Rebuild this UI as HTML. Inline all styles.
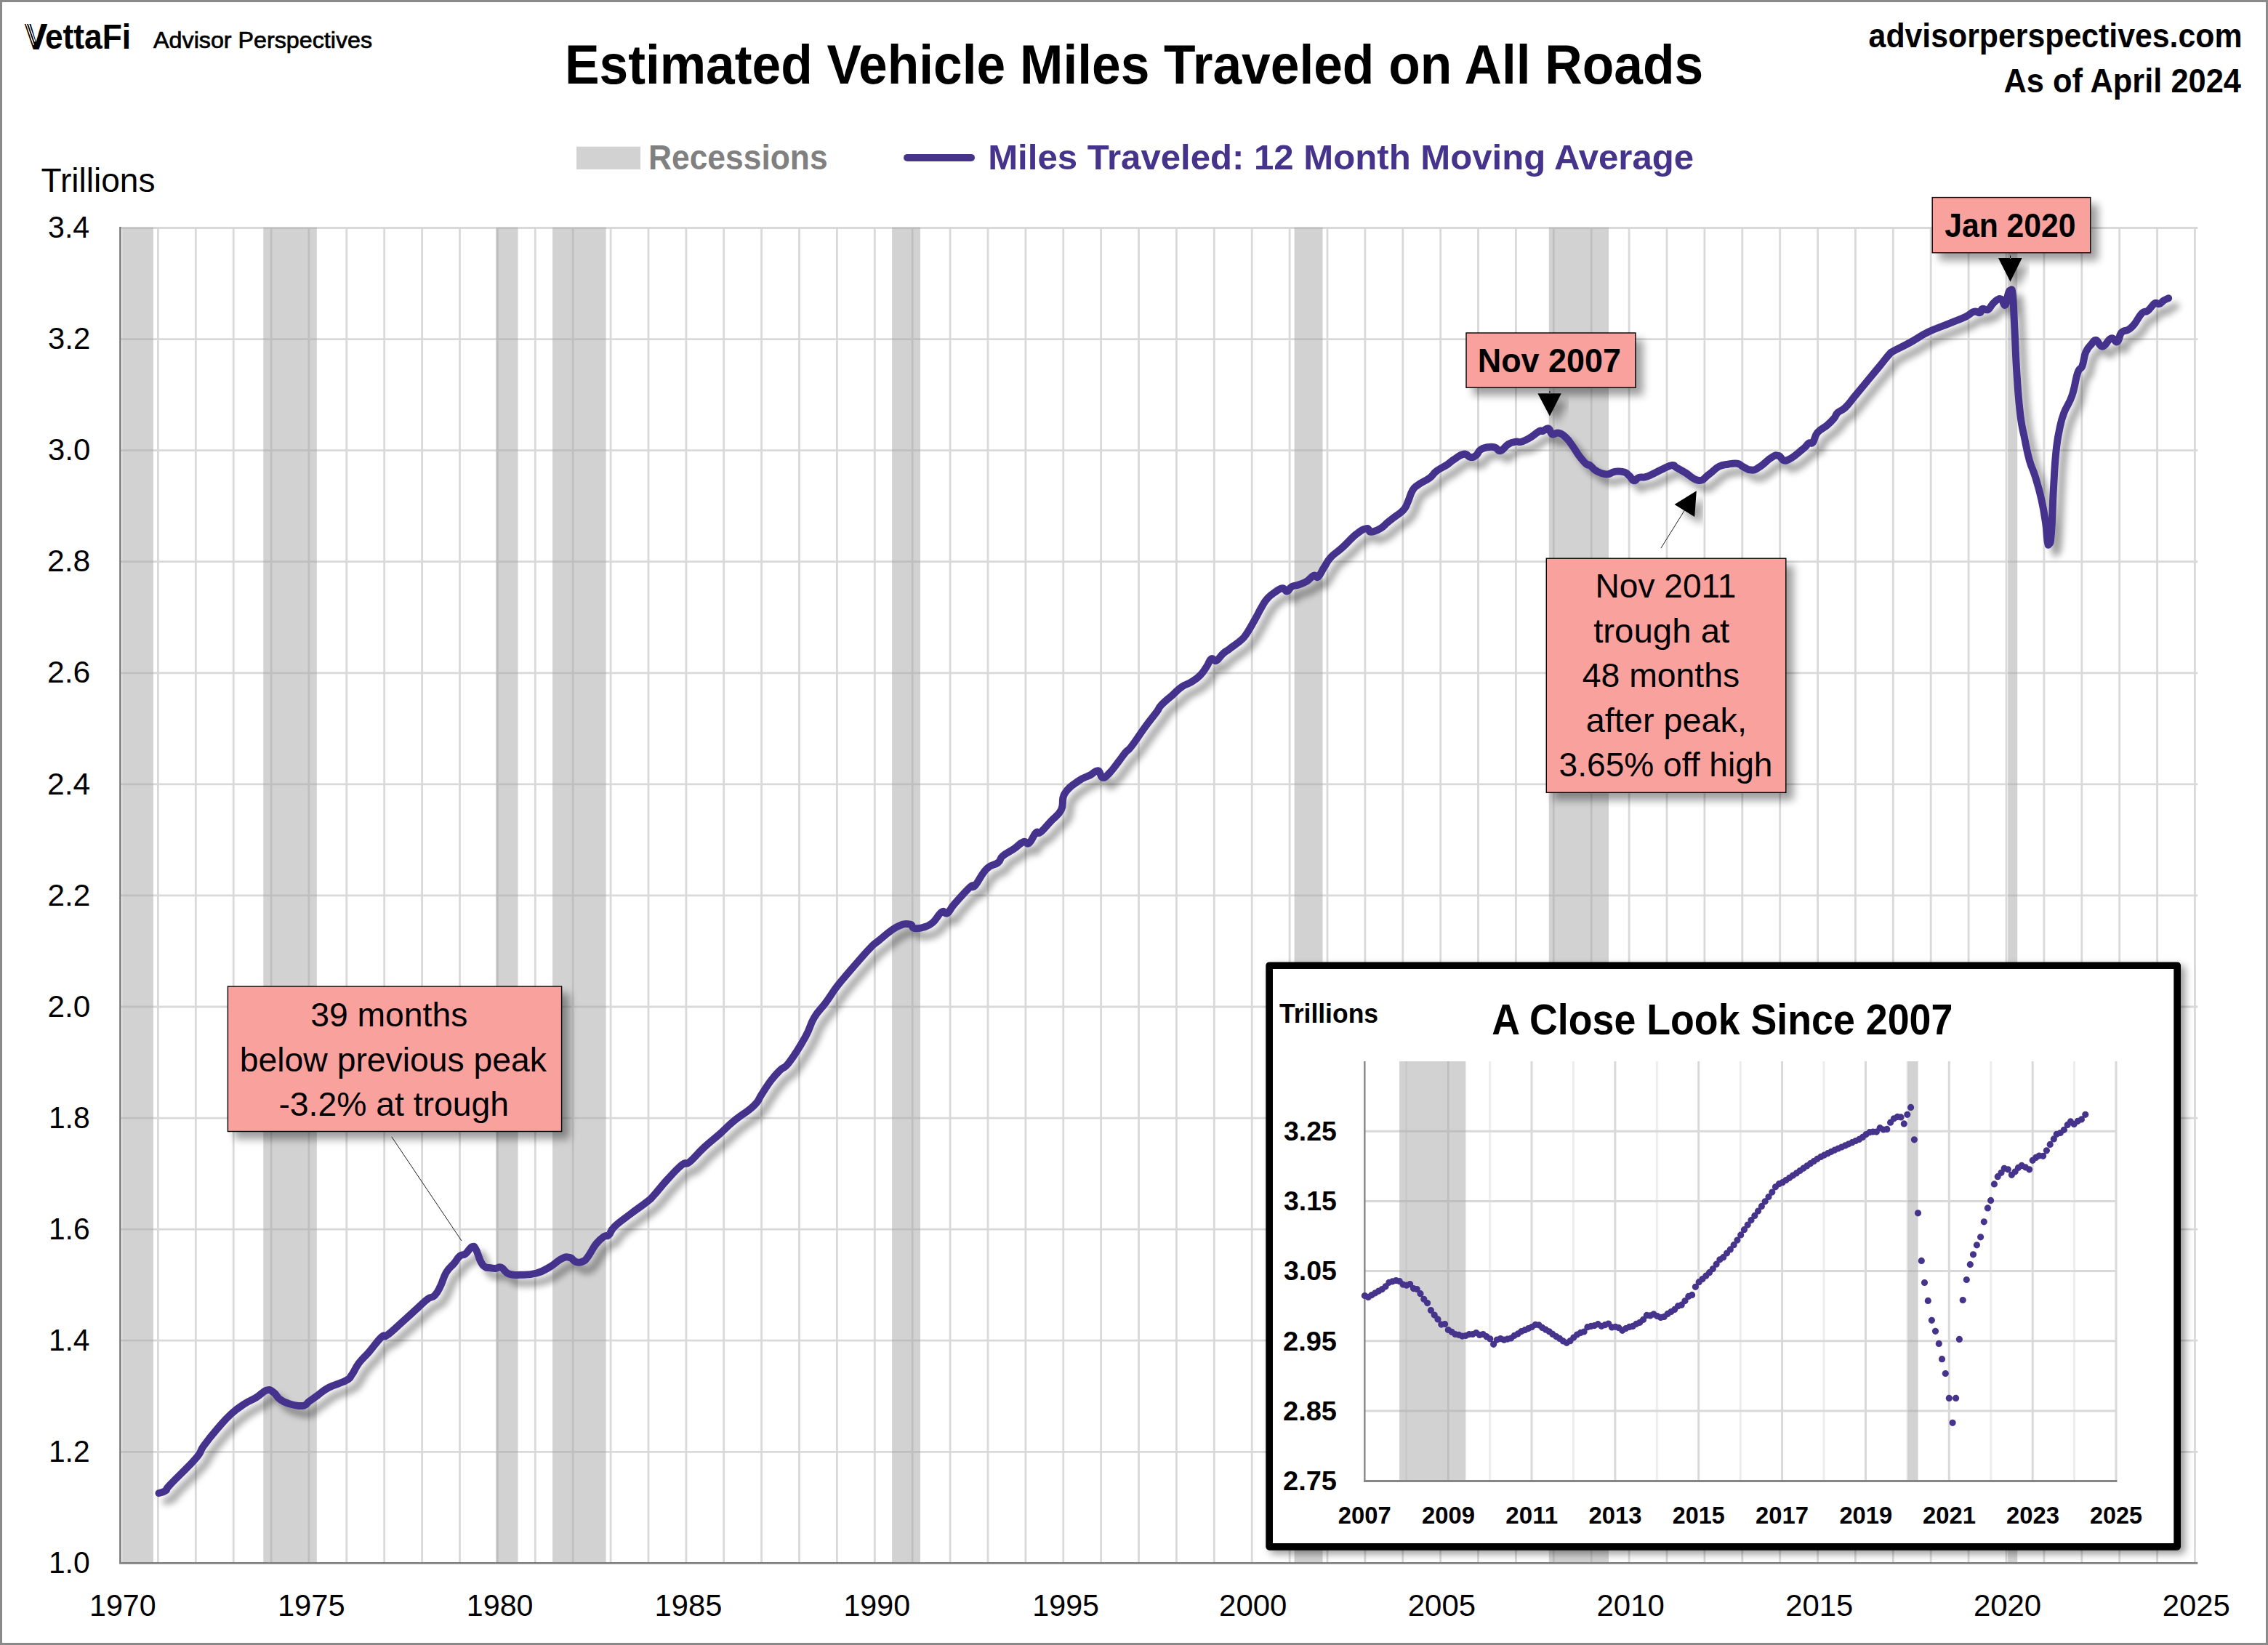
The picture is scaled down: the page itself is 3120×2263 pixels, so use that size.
<!DOCTYPE html>
<html lang="en"><head><meta charset="utf-8"><title>Estimated Vehicle Miles Traveled on All Roads</title>
<style>html,body{margin:0;padding:0;background:#fff}svg{display:block}svg text{font-family:"Liberation Sans",sans-serif}</style></head>
<body>
<svg width="3120" height="2263" viewBox="0 0 3120 2263" font-family="&quot;Liberation Sans&quot;, sans-serif">
<defs>
<filter id="sl" x="-5%" y="-5%" width="110%" height="110%"><feGaussianBlur in="SourceAlpha" stdDeviation="5"/><feOffset dx="9.5" dy="10.5"/><feComponentTransfer><feFuncA type="linear" slope="0.37"/></feComponentTransfer><feMerge><feMergeNode/><feMergeNode in="SourceGraphic"/></feMerge></filter>
<filter id="sb" x="-20%" y="-30%" width="150%" height="180%"><feGaussianBlur in="SourceAlpha" stdDeviation="6"/><feOffset dx="9.5" dy="10"/><feComponentTransfer><feFuncA type="linear" slope="0.38"/></feComponentTransfer><feMerge><feMergeNode/><feMergeNode in="SourceGraphic"/></feMerge></filter>
<filter id="si" x="-5%" y="-5%" width="112%" height="112%"><feGaussianBlur in="SourceAlpha" stdDeviation="5.5"/><feOffset dx="6" dy="4.5"/><feComponentTransfer><feFuncA type="linear" slope="0.4"/></feComponentTransfer><feMerge><feMergeNode/><feMergeNode in="SourceGraphic"/></feMerge></filter>
<clipPath id="pc"><rect x="160" y="300" width="2870" height="1849"/></clipPath>
</defs>
<rect width="3120" height="2263" fill="#fff"/>
<path d="M217.4 312.0V2150.4M269.3 312.0V2150.4M321.2 312.0V2150.4M373.1 312.0V2150.4M424.9 312.0V2150.4M476.8 312.0V2150.4M528.7 312.0V2150.4M580.6 312.0V2150.4M632.5 312.0V2150.4M684.4 312.0V2150.4M736.3 312.0V2150.4M788.2 312.0V2150.4M840.1 312.0V2150.4M892.0 312.0V2150.4M943.9 312.0V2150.4M995.7 312.0V2150.4M1047.6 312.0V2150.4M1099.5 312.0V2150.4M1151.4 312.0V2150.4M1203.3 312.0V2150.4M1255.2 312.0V2150.4M1307.1 312.0V2150.4M1359.0 312.0V2150.4M1410.9 312.0V2150.4M1462.8 312.0V2150.4M1514.6 312.0V2150.4M1566.5 312.0V2150.4M1618.4 312.0V2150.4M1670.3 312.0V2150.4M1722.2 312.0V2150.4M1774.1 312.0V2150.4M1826.0 312.0V2150.4M1877.9 312.0V2150.4M1929.8 312.0V2150.4M1981.7 312.0V2150.4M2033.5 312.0V2150.4M2085.4 312.0V2150.4M2137.3 312.0V2150.4M2189.2 312.0V2150.4M2241.1 312.0V2150.4M2293.0 312.0V2150.4M2344.9 312.0V2150.4M2396.8 312.0V2150.4M2448.7 312.0V2150.4M2500.6 312.0V2150.4M2552.4 312.0V2150.4M2604.3 312.0V2150.4M2656.2 312.0V2150.4M2708.1 312.0V2150.4M2760.0 312.0V2150.4M2811.9 312.0V2150.4M2863.8 312.0V2150.4M2915.7 312.0V2150.4M2967.6 312.0V2150.4M3019.4 312.0V2150.4M165.5 313.5H3023.3M165.5 466.6H3023.3M165.5 619.6H3023.3M165.5 772.7H3023.3M165.5 925.8H3023.3M165.5 1078.9H3023.3M165.5 1231.9H3023.3M165.5 1385.0H3023.3M165.5 1538.1H3023.3M165.5 1691.2H3023.3M165.5 1844.2H3023.3M165.5 1997.3H3023.3" stroke="#D9D9D9" stroke-width="2.8" fill="none"/>
<rect x="168.2" y="312.9" width="42.7" height="1837.5" fill="#A6A6A6" fill-opacity="0.5"/>
<rect x="362.3" y="312.9" width="73.5" height="1837.5" fill="#A6A6A6" fill-opacity="0.5"/>
<rect x="682.2" y="312.9" width="30.3" height="1837.5" fill="#A6A6A6" fill-opacity="0.5"/>
<rect x="760.1" y="312.9" width="73.5" height="1837.5" fill="#A6A6A6" fill-opacity="0.5"/>
<rect x="1227.1" y="312.9" width="38.9" height="1837.5" fill="#A6A6A6" fill-opacity="0.5"/>
<rect x="1780.6" y="312.9" width="38.9" height="1837.5" fill="#A6A6A6" fill-opacity="0.5"/>
<rect x="2130.8" y="312.9" width="82.2" height="1837.5" fill="#A6A6A6" fill-opacity="0.5"/>
<rect x="2762.2" y="312.9" width="13.0" height="1837.5" fill="#A6A6A6" fill-opacity="0.5"/>
<path d="M165.5 312.1V2151.8M164.1 2150.4H3023.3" stroke="#828282" stroke-width="2.8" fill="none"/>
<path d="M218.5 2054.2C220.7 2053.3 224.3 2053.2 228.0 2050.4C231.7 2047.6 224.7 2052.4 234.3 2042.2C243.9 2032.0 258.3 2019.0 269.0 2006.7C279.7 1994.4 273.0 1999.0 280.0 1989.4C287.0 1979.8 290.1 1975.9 299.0 1965.6C307.9 1955.3 309.1 1953.2 318.0 1945.1C326.9 1937.0 328.9 1936.2 337.0 1930.9C345.1 1925.6 345.9 1926.6 352.9 1922.3C359.9 1918.0 361.5 1914.0 367.0 1912.5C372.5 1911.0 372.5 1912.9 376.6 1915.7C380.7 1918.5 379.7 1921.0 384.5 1924.5C389.3 1928.0 389.6 1928.7 397.0 1930.9C404.4 1933.1 409.3 1934.7 416.0 1934.0C422.7 1933.3 420.8 1931.0 425.6 1927.7C430.4 1924.4 430.3 1924.2 436.6 1919.8C442.9 1915.4 443.2 1913.5 452.4 1908.7C461.6 1903.9 468.6 1903.3 476.0 1899.2C483.4 1895.1 479.9 1896.8 484.0 1891.3C488.1 1885.8 487.9 1882.9 493.5 1875.5C499.1 1868.1 500.4 1868.2 507.8 1859.7C515.1 1851.2 519.1 1844.6 525.0 1839.2C530.9 1833.8 526.0 1841.8 533.0 1836.6C540.0 1831.4 545.6 1825.6 555.2 1817.0C564.8 1808.4 566.5 1806.7 574.2 1799.7C581.9 1792.7 582.9 1791.1 588.4 1787.0C593.9 1782.9 593.8 1786.4 597.9 1782.3C602.0 1778.2 602.1 1777.0 605.8 1769.6C609.5 1762.2 609.3 1758.1 613.7 1750.7C618.1 1743.3 620.3 1743.3 624.7 1738.0C629.1 1732.7 628.9 1731.0 632.6 1727.9C636.3 1724.8 636.6 1727.7 640.5 1724.7C644.4 1721.7 646.1 1716.5 649.4 1715.2C652.7 1713.9 652.1 1714.4 654.8 1719.0C657.5 1723.6 658.1 1729.3 661.0 1734.9C663.9 1740.5 664.2 1740.6 667.4 1742.8C670.6 1745.0 671.5 1743.7 674.8 1744.2C678.1 1744.7 678.2 1745.1 681.7 1745.0C685.2 1744.9 685.3 1742.0 689.6 1743.7C693.9 1745.5 693.9 1750.2 700.0 1752.5C706.1 1754.8 707.0 1753.9 715.9 1753.7C724.8 1753.5 728.4 1754.1 738.0 1751.5C747.6 1748.9 748.9 1747.3 757.0 1742.6C765.1 1737.9 766.5 1734.4 772.8 1731.5C779.1 1728.6 779.5 1729.0 783.9 1730.0C788.3 1731.0 787.8 1734.4 791.8 1735.7C795.8 1737.0 797.2 1737.4 801.2 1735.7C805.2 1734.0 804.7 1734.2 809.1 1728.4C813.5 1722.6 815.0 1717.4 820.2 1711.0C825.4 1704.6 827.2 1703.7 831.3 1700.9C835.4 1698.1 834.3 1702.2 837.6 1699.0C840.9 1695.8 838.5 1694.1 845.5 1687.3C852.5 1680.5 857.3 1677.8 867.6 1669.9C877.9 1662.0 882.4 1659.4 889.8 1653.5C897.2 1647.6 892.7 1651.8 899.3 1644.6C905.9 1637.4 909.0 1632.5 918.2 1622.5C927.4 1612.5 931.8 1607.4 938.8 1601.9C945.8 1596.4 941.3 1604.3 948.3 1598.8C955.3 1593.3 958.8 1587.4 968.8 1578.2C978.8 1569.0 981.4 1567.7 991.0 1559.2C1000.6 1550.7 999.2 1550.7 1009.9 1541.9C1020.6 1533.1 1028.0 1529.8 1036.8 1521.3C1045.6 1512.8 1042.3 1513.6 1047.8 1505.5C1053.3 1497.4 1054.6 1494.2 1060.5 1486.5C1066.4 1478.8 1067.2 1478.2 1073.1 1472.3C1079.0 1466.4 1077.7 1471.9 1085.8 1461.2C1093.9 1450.5 1099.9 1440.8 1107.9 1426.5C1115.9 1412.2 1113.5 1411.0 1120.0 1400.0C1126.5 1389.0 1128.4 1389.6 1135.8 1379.5C1143.2 1369.4 1144.2 1366.5 1151.6 1356.8C1159.0 1347.1 1160.0 1346.5 1167.4 1337.8C1174.8 1329.1 1176.2 1327.5 1183.2 1319.5C1190.2 1311.5 1191.6 1309.6 1197.5 1303.7C1203.4 1297.8 1200.0 1300.9 1208.5 1294.2C1217.0 1287.5 1223.8 1280.5 1233.8 1275.2C1243.8 1269.9 1245.7 1271.0 1251.2 1271.4C1256.7 1271.8 1253.1 1275.8 1257.5 1276.8C1261.9 1277.8 1264.3 1277.5 1270.2 1275.8C1276.1 1274.1 1276.9 1274.4 1282.8 1269.5C1288.7 1264.6 1290.7 1257.7 1295.5 1254.6C1300.3 1251.5 1299.3 1258.8 1303.4 1256.2C1307.5 1253.6 1305.5 1252.1 1312.9 1243.6C1320.3 1235.1 1328.4 1225.8 1335.0 1219.9C1341.6 1214.0 1336.1 1224.0 1341.3 1218.3C1346.5 1212.6 1349.7 1202.9 1357.1 1195.5C1364.5 1188.1 1367.7 1190.8 1372.9 1186.7C1378.1 1182.6 1374.0 1182.2 1379.2 1177.8C1384.4 1173.4 1388.3 1172.3 1395.0 1167.7C1401.7 1163.1 1402.9 1160.0 1407.7 1158.2C1412.5 1156.4 1411.5 1162.7 1415.6 1159.8C1419.7 1156.9 1421.4 1149.1 1425.1 1145.6C1428.8 1142.1 1426.6 1148.6 1431.4 1144.9C1436.2 1141.2 1438.9 1137.0 1445.6 1129.8C1452.2 1122.6 1455.5 1122.9 1459.9 1114.0C1464.3 1105.1 1459.1 1101.0 1464.6 1091.8C1470.1 1082.6 1475.5 1080.3 1483.6 1074.4C1491.7 1068.5 1493.1 1069.8 1499.4 1066.5C1505.7 1063.2 1506.3 1059.5 1510.4 1060.2C1514.5 1060.9 1513.1 1069.0 1516.8 1069.7C1520.5 1070.4 1521.1 1068.6 1526.3 1063.4C1531.5 1058.2 1533.7 1054.2 1538.9 1047.6C1544.1 1040.9 1544.3 1039.7 1548.4 1034.9C1552.5 1030.1 1550.0 1035.1 1556.3 1027.0C1562.6 1018.9 1567.2 1011.2 1575.3 1000.1C1583.4 989.0 1585.9 986.6 1591.1 979.6C1596.3 972.6 1592.2 975.6 1597.4 970.1C1602.6 964.6 1606.6 961.8 1613.2 955.9C1619.8 950.0 1619.9 948.9 1625.8 944.8C1631.7 940.7 1632.6 942.2 1638.5 938.5C1644.4 934.8 1646.1 934.1 1651.1 929.0C1656.1 923.9 1656.5 922.1 1660.1 916.8C1663.7 911.5 1663.3 908.1 1666.4 906.3C1669.5 904.5 1669.6 910.5 1673.3 908.9C1677.0 907.3 1677.9 903.2 1682.2 899.4C1686.5 895.5 1685.8 896.8 1691.7 892.4C1697.6 888.0 1702.0 885.4 1707.5 880.4C1713.0 875.4 1711.0 877.5 1715.4 870.9C1719.8 864.3 1721.7 860.5 1726.5 852.0C1731.3 843.5 1731.8 841.4 1735.9 834.6C1740.0 827.8 1739.5 827.7 1743.9 822.9C1748.3 818.1 1750.1 817.2 1754.9 814.0C1759.7 810.8 1760.7 809.4 1764.4 809.3C1768.1 809.2 1767.8 813.9 1770.7 813.4C1773.6 812.9 1773.3 809.2 1777.0 807.1C1780.7 805.0 1781.7 806.2 1786.5 804.5C1791.3 802.8 1792.8 802.7 1797.6 799.8C1802.4 796.9 1803.4 793.4 1807.1 791.9C1810.8 790.4 1810.1 796.1 1813.4 793.5C1816.7 790.9 1817.2 787.1 1821.3 780.8C1825.4 774.5 1824.9 773.0 1830.8 766.6C1836.7 760.2 1838.5 760.7 1846.6 753.3C1854.7 745.9 1857.9 741.1 1865.6 735.0C1873.3 728.9 1875.0 727.8 1879.8 727.1C1884.6 726.4 1881.7 731.8 1886.1 731.8C1890.5 731.8 1893.6 730.0 1898.8 727.1C1904.0 724.2 1904.2 722.5 1908.3 719.2C1912.4 715.9 1911.0 717.0 1916.2 712.9C1921.4 708.8 1925.6 707.0 1930.4 701.8C1935.2 696.6 1933.8 697.0 1936.7 690.7C1939.6 684.4 1939.7 680.4 1943.0 674.9C1946.3 669.4 1945.4 671.1 1950.9 667.0C1956.4 662.9 1960.8 661.9 1966.7 657.5C1972.6 653.1 1970.6 652.2 1976.2 648.0C1981.8 643.8 1984.9 643.2 1990.5 639.5C1996.1 635.8 1994.6 635.8 2000.0 632.3C2005.4 628.8 2008.2 625.5 2013.6 624.7C2019.0 623.9 2019.0 628.5 2023.0 628.9C2027.0 629.3 2027.4 628.8 2030.6 626.4C2033.8 624.0 2033.0 621.3 2036.6 618.7C2040.2 616.1 2041.4 616.1 2046.0 615.3C2050.6 614.5 2051.9 614.2 2056.2 615.3C2060.5 616.4 2059.9 621.1 2064.3 620.1C2068.7 619.1 2070.0 614.0 2074.9 611.1C2079.8 608.2 2080.9 608.5 2085.1 607.7C2089.3 606.9 2088.0 609.1 2092.8 607.7C2097.6 606.3 2099.8 605.1 2105.5 601.7C2111.2 598.3 2113.4 595.3 2117.4 593.2C2121.4 591.1 2119.6 593.8 2122.6 592.9C2125.6 592.0 2127.2 588.4 2130.2 589.4C2133.2 590.4 2132.1 595.9 2135.3 597.4C2138.5 598.9 2139.4 594.7 2143.8 595.7C2148.2 596.7 2149.4 597.5 2154.0 601.7C2158.6 605.9 2159.2 607.8 2163.4 613.6C2167.6 619.4 2167.5 620.6 2171.9 626.4C2176.3 632.2 2178.5 635.1 2182.1 638.3C2185.7 641.5 2184.0 637.8 2187.2 640.0C2190.4 642.2 2190.5 644.8 2195.7 647.7C2200.9 650.6 2203.8 652.0 2209.4 652.4C2215.0 652.8 2215.8 650.3 2219.6 649.4C2223.4 648.5 2221.9 648.4 2225.5 648.5C2229.1 648.6 2231.1 648.2 2234.9 649.7C2238.7 651.2 2238.7 652.1 2241.7 654.8C2244.7 657.5 2244.7 660.8 2247.7 661.3C2250.7 661.8 2250.7 658.2 2254.5 657.0C2258.3 655.8 2259.2 657.4 2263.8 656.2C2268.4 655.0 2268.4 654.5 2274.0 651.9C2279.6 649.3 2281.5 647.9 2287.7 645.1C2293.9 642.3 2296.0 640.4 2300.4 640.0C2304.8 639.6 2302.2 641.0 2306.4 643.4C2310.6 645.8 2311.2 646.1 2318.3 650.2C2325.4 654.3 2329.5 660.3 2337.0 660.9C2344.5 661.5 2344.2 657.2 2350.6 652.8C2357.0 648.4 2358.3 645.2 2364.5 641.9C2370.7 638.6 2371.3 639.7 2377.2 638.7C2383.1 637.7 2385.0 637.0 2389.8 637.7C2394.6 638.4 2393.3 639.8 2397.7 641.9C2402.1 644.0 2403.6 646.4 2408.8 646.6C2414.0 646.8 2413.2 646.9 2419.9 642.8C2426.6 638.7 2431.0 632.9 2437.3 629.2C2443.6 625.5 2441.9 626.0 2446.7 627.0C2451.5 628.0 2450.0 635.4 2457.8 633.3C2465.6 631.2 2473.0 623.4 2480.0 617.9C2487.0 612.4 2484.7 612.1 2488.0 609.9C2491.3 607.7 2491.2 611.9 2494.0 608.5C2496.8 605.1 2495.6 600.7 2500.1 595.2C2504.6 589.7 2508.1 589.6 2513.4 585.1C2518.7 580.6 2519.4 579.9 2522.8 575.8C2526.2 571.7 2524.4 571.3 2528.1 567.7C2531.8 564.1 2533.2 565.9 2538.8 560.4C2544.4 554.9 2544.7 553.4 2552.2 544.3C2559.7 535.2 2562.8 531.4 2570.9 521.6C2579.0 511.8 2580.4 510.2 2587.0 502.2C2593.6 494.2 2594.8 492.0 2599.0 487.5C2603.2 483.0 2598.4 486.5 2605.0 482.8C2611.6 479.1 2616.0 477.6 2627.1 471.5C2638.2 465.4 2640.0 462.9 2652.5 456.8C2665.0 450.7 2668.4 450.4 2680.6 445.4C2692.8 440.4 2696.5 439.3 2704.6 435.4C2712.7 431.5 2710.8 430.0 2715.3 428.8C2719.8 427.6 2721.2 431.0 2723.9 430.1C2726.6 429.2 2724.4 426.0 2727.0 425.0C2729.6 424.0 2731.6 427.6 2734.9 426.0C2738.2 424.4 2738.2 421.3 2741.2 418.1C2744.2 414.9 2744.8 413.9 2747.6 412.4C2750.4 410.9 2750.7 410.1 2753.3 411.8C2755.9 413.5 2756.4 421.5 2758.6 419.7C2760.8 417.9 2761.0 408.6 2762.7 403.9C2764.4 399.2 2764.5 399.3 2765.9 399.7C2767.3 400.1 2767.4 393.7 2768.7 405.4C2770.0 417.1 2770.0 424.6 2771.3 449.7C2772.6 474.8 2772.6 484.9 2774.4 512.9C2776.2 540.9 2776.6 548.4 2779.2 569.8C2781.8 591.2 2782.6 589.8 2785.5 604.6C2788.4 619.4 2788.5 621.3 2791.8 633.1C2795.1 644.9 2795.8 642.7 2799.7 655.2C2803.5 667.7 2805.0 672.1 2808.3 686.8C2811.6 701.5 2812.1 705.1 2814.0 718.4C2815.9 731.7 2815.4 736.7 2816.5 743.7C2817.6 750.7 2817.4 750.7 2818.7 748.5C2820.0 746.3 2820.4 752.3 2821.9 734.2C2823.4 716.1 2823.5 696.8 2825.0 671.0C2826.5 645.2 2826.4 642.0 2828.2 623.6C2830.0 605.2 2830.3 604.9 2832.9 592.0C2835.5 579.1 2835.1 579.4 2839.2 568.3C2843.3 557.2 2845.9 557.4 2850.3 544.5C2854.7 531.6 2854.9 522.5 2858.2 512.9C2861.5 503.3 2861.9 510.0 2864.5 503.4C2867.1 496.8 2866.3 491.5 2869.3 484.5C2872.3 477.5 2873.9 477.2 2877.2 473.4C2880.5 469.5 2880.0 467.3 2883.5 468.0C2887.0 468.7 2887.6 477.2 2892.4 476.6C2897.2 476.0 2899.4 467.0 2904.1 465.5C2908.8 464.0 2909.3 472.0 2912.6 470.2C2915.9 468.4 2914.8 461.5 2918.3 457.6C2921.8 453.7 2923.7 456.1 2927.8 453.5C2931.9 450.9 2931.3 451.8 2935.7 446.5C2940.1 441.2 2942.3 435.1 2946.7 430.7C2951.1 426.3 2950.5 430.7 2954.6 427.6C2958.7 424.5 2960.4 419.6 2964.1 417.4C2967.8 415.2 2967.4 419.1 2970.4 418.1C2973.4 417.1 2973.8 415.1 2976.8 413.3C2979.8 411.5 2981.6 410.9 2983.1 410.2" fill="none" stroke="#45338C" stroke-width="10" stroke-linejoin="round" stroke-linecap="round" filter="url(#sl)"/>
<path d="M538.8 1563.9L635 1707" stroke="#222" stroke-width="1" fill="none"/>
<rect x="313.4" y="1357" width="459.2" height="199.5" fill="#F8A19D" stroke="#000" stroke-width="1.4" filter="url(#sb)"/>
<text x="427.2" y="1411.9" font-size="45.8" font-weight="400" fill="#000" textLength="216.1" lengthAdjust="spacingAndGlyphs">39 months</text>
<text x="329.8" y="1474.0" font-size="45.8" font-weight="400" fill="#000" textLength="422.2" lengthAdjust="spacingAndGlyphs">below previous peak</text>
<text x="383.4" y="1534.7" font-size="45.8" font-weight="400" fill="#000" textLength="316.7" lengthAdjust="spacingAndGlyphs">-3.2% at trough</text>
<path d="M2284.9 754.1L2318 701" stroke="#222" stroke-width="1" fill="none" />
<path d="M2333.8 675.3L2303.5 694L2331.2 711Z" fill="#000" filter="url(#sb)"/>
<rect x="2127.3" y="768.2" width="329.5" height="322.1" fill="#F8A19D" stroke="#000" stroke-width="1.4" filter="url(#sb)"/>
<text x="2194.6" y="822.0" font-size="45.8" font-weight="400" fill="#000" textLength="193.8" lengthAdjust="spacingAndGlyphs">Nov 2011</text>
<text x="2192.2" y="883.6" font-size="45.8" font-weight="400" fill="#000" textLength="187.0" lengthAdjust="spacingAndGlyphs">trough at</text>
<text x="2176.8" y="945.1" font-size="45.8" font-weight="400" fill="#000" textLength="216.3" lengthAdjust="spacingAndGlyphs">48 months</text>
<text x="2181.8" y="1006.7" font-size="45.8" font-weight="400" fill="#000" textLength="221.2" lengthAdjust="spacingAndGlyphs">after peak,</text>
<text x="2144.6" y="1068.0" font-size="45.8" font-weight="400" fill="#000" textLength="293.9" lengthAdjust="spacingAndGlyphs">3.65% off high</text>
<path d="M2115.4 541.2H2147.8L2131.9 572.6ZM2131.4 538V542H2132.4V538Z" fill="#000" filter="url(#sb)"/>
<rect x="2017" y="458" width="232.9" height="75.2" fill="#F8A19D" stroke="#000" stroke-width="1.4" filter="url(#sb)"/>
<text x="2032.8" y="512.3" font-size="45.8" font-weight="700" fill="#000" textLength="197.1" lengthAdjust="spacingAndGlyphs">Nov 2007</text>
<path d="M2749 354.9H2781.6L2765.5 387.6ZM2765 351.5V356H2766V351.5Z" fill="#000" filter="url(#sb)"/>
<rect x="2658.2" y="271.6" width="217.5" height="76.1" fill="#F8A19D" stroke="#000" stroke-width="1.4" filter="url(#sb)"/>
<text x="2675.2" y="326.4" font-size="45.8" font-weight="700" fill="#000" textLength="180.4" lengthAdjust="spacingAndGlyphs">Jan 2020</text>
<g clip-path="url(#pc)">
<rect x="1746.15" y="1328.25" width="1249.00" height="799.60" fill="#fff" stroke="#000" stroke-width="9.7" stroke-linejoin="round" filter="url(#si)"/>
</g>
<path d="M1934.7 1460.0V2037.2M2049.6 1460.0V2037.2M2164.4 1460.0V2037.2M2279.3 1460.0V2037.2M2394.2 1460.0V2037.2M2509.0 1460.0V2037.2M2623.9 1460.0V2037.2M2738.8 1460.0V2037.2M2853.6 1460.0V2037.2" stroke="#EDEDED" stroke-width="3" fill="none"/>
<path d="M1992.2 1460.0V2037.2M2107.0 1460.0V2037.2M2221.9 1460.0V2037.2M2336.7 1460.0V2037.2M2451.6 1460.0V2037.2M2566.5 1460.0V2037.2M2681.3 1460.0V2037.2M2796.2 1460.0V2037.2M2911.0 1460.0V2037.2M1877.3 1556.2H2912.5M1877.3 1652.4H2912.5M1877.3 1748.6H2912.5M1877.3 1844.8H2912.5M1877.3 1941.0H2912.5" stroke="#D9D9D9" stroke-width="3" fill="none"/>
<rect x="1925.1" y="1460.0" width="91.2" height="577.2" fill="#A6A6A6" fill-opacity="0.5"/>
<rect x="2624.4" y="1460.0" width="14.2" height="577.2" fill="#A6A6A6" fill-opacity="0.5"/>
<path d="M1877.3 1460.0V2038.7" stroke="#868686" stroke-width="2.4" fill="none"/>
<path d="M1876.1 2037.5H2912.4" stroke="#868686" stroke-width="3" fill="none"/>
<path d="M1877.4 1782.5h0M1882.2 1784.4h0M1887.0 1781.6h0M1891.8 1778.8h0M1896.6 1776.1h0M1901.3 1773.6h0M1906.1 1769.8h0M1910.9 1764.3h0M1915.7 1762.8h0M1920.5 1761.6h0M1925.3 1762.7h0M1930.1 1767.1h0M1934.9 1768.2h0M1939.7 1766.6h0M1944.5 1772.6h0M1949.2 1773.5h0M1954.0 1779.7h0M1958.8 1787.3h0M1963.6 1792.6h0M1968.4 1802.6h0M1973.2 1809.1h0M1978.0 1814.9h0M1982.8 1822.1h0M1987.6 1821.5h0M1992.3 1829.5h0M1997.1 1832.3h0M2001.9 1835.5h0M2006.7 1836.3h0M2011.5 1838.1h0M2016.3 1837.5h0M2021.1 1835.6h0M2025.9 1835.5h0M2030.7 1833.5h0M2035.4 1836.4h0M2040.2 1835.5h0M2045.0 1838.7h0M2049.8 1841.8h0M2054.6 1849.3h0M2059.4 1843.1h0M2064.2 1841.6h0M2069.0 1843.2h0M2073.8 1842.1h0M2078.6 1841.0h0M2083.3 1837.3h0M2088.1 1834.9h0M2092.9 1831.6h0M2097.7 1829.7h0M2102.5 1827.6h0M2107.3 1825.5h0M2112.1 1822.4h0M2116.9 1822.8h0M2121.7 1826.4h0M2126.4 1829.2h0M2131.2 1831.8h0M2136.0 1835.4h0M2140.8 1838.6h0M2145.6 1841.4h0M2150.4 1844.9h0M2155.2 1847.3h0M2160.0 1844.7h0M2164.8 1840.1h0M2169.6 1836.0h0M2174.3 1833.4h0M2179.1 1832.0h0M2183.9 1825.7h0M2188.7 1824.4h0M2193.5 1823.6h0M2198.3 1821.7h0M2203.1 1824.3h0M2207.9 1822.7h0M2212.7 1821.1h0M2217.4 1825.9h0M2222.2 1825.3h0M2227.0 1826.7h0M2231.8 1830.3h0M2236.6 1827.5h0M2241.4 1825.4h0M2246.2 1824.4h0M2251.0 1821.3h0M2255.8 1819.3h0M2260.5 1815.4h0M2265.3 1809.4h0M2270.1 1809.9h0M2274.9 1807.8h0M2279.7 1810.5h0M2284.5 1812.4h0M2289.3 1811.4h0M2294.1 1807.4h0M2298.9 1804.5h0M2303.7 1801.4h0M2308.4 1796.7h0M2313.2 1795.2h0M2318.0 1789.6h0M2322.8 1783.4h0M2327.6 1781.4h0M2332.4 1770.3h0M2337.2 1763.7h0M2342.0 1759.6h0M2346.8 1755.2h0M2351.5 1750.7h0M2356.3 1745.6h0M2361.1 1739.2h0M2365.9 1732.8h0M2370.7 1729.7h0M2375.5 1724.0h0M2380.3 1718.9h0M2385.1 1712.7h0M2389.9 1706.1h0M2394.7 1698.9h0M2399.4 1691.7h0M2404.2 1685.1h0M2409.0 1678.6h0M2413.8 1672.4h0M2418.6 1666.1h0M2423.4 1659.4h0M2428.2 1652.8h0M2433.0 1646.5h0M2437.8 1640.1h0M2442.5 1632.8h0M2447.3 1628.7h0M2452.1 1626.7h0M2456.9 1623.5h0M2461.7 1620.3h0M2466.5 1617.1h0M2471.3 1613.9h0M2476.1 1610.5h0M2480.9 1607.2h0M2485.7 1603.9h0M2490.4 1600.7h0M2495.2 1597.5h0M2500.0 1594.3h0M2504.8 1591.4h0M2509.6 1589.1h0M2514.4 1586.7h0M2519.2 1584.3h0M2524.0 1582.1h0M2528.8 1580.0h0M2533.5 1578.0h0M2538.3 1575.9h0M2543.1 1573.8h0M2547.9 1571.7h0M2552.7 1569.5h0M2557.5 1567.4h0M2562.3 1564.4h0M2567.1 1560.6h0M2571.9 1557.7h0M2576.6 1557.0h0M2581.4 1557.1h0M2586.2 1551.7h0M2591.0 1554.0h0M2595.8 1553.4h0M2600.6 1544.2h0M2605.4 1538.8h0M2610.2 1536.4h0M2615.0 1536.9h0M2619.3 1545.9h0M2623.8 1533.3h0M2628.6 1523.4h0M2633.4 1567.8h0M2638.5 1668.8h0M2643.3 1734.4h0M2647.5 1764.5h0M2652.3 1789.4h0M2657.4 1816.3h0M2662.5 1831.3h0M2667.3 1848.4h0M2671.5 1869.7h0M2676.3 1889.5h0M2681.3 1923.4h0M2686.1 1957.3h0M2690.6 1923.4h0M2695.4 1842.4h0M2700.2 1788.5h0M2705.3 1760.5h0M2710.3 1739.6h0M2714.5 1725.8h0M2719.4 1712.8h0M2724.6 1701.8h0M2729.3 1680.8h0M2734.4 1661.9h0M2738.6 1651.4h0M2743.4 1628.9h0M2748.2 1618.7h0M2753.0 1613.3h0M2757.2 1607.3h0M2762.3 1608.8h0M2767.4 1616.3h0M2772.2 1611.8h0M2776.4 1606.4h0M2781.2 1603.4h0M2786.3 1605.8h0M2791.7 1608.8h0M2796.2 1596.3h0M2800.7 1592.4h0M2805.2 1590.0h0M2810.6 1590.3h0M2815.4 1582.8h0M2820.2 1574.4h0M2825.3 1566.9h0M2829.2 1560.3h0M2834.3 1558.5h0M2839.4 1554.3h0M2844.2 1547.4h0M2848.4 1542.9h0M2853.2 1546.5h0M2858.3 1542.3h0M2863.4 1539.9h0M2868.8 1533.3h0" stroke="#45338C" stroke-width="9.2" stroke-linecap="round" fill="none"/>
<text x="1760.0" y="1407.0" font-size="37.8" font-weight="700" fill="#000" textLength="136.1" lengthAdjust="spacingAndGlyphs">Trillions</text>
<text x="2052.2" y="1423.0" font-size="58.9" font-weight="700" fill="#000" textLength="634.2" lengthAdjust="spacingAndGlyphs">A Close Look Since 2007</text>
<text x="1766.0" y="1568.9" font-size="36.6" font-weight="700" fill="#000" textLength="72.9" lengthAdjust="spacingAndGlyphs">3.25</text>
<text x="1766.0" y="1665.1" font-size="36.6" font-weight="700" fill="#000" textLength="72.9" lengthAdjust="spacingAndGlyphs">3.15</text>
<text x="1766.0" y="1761.3" font-size="36.6" font-weight="700" fill="#000" textLength="72.9" lengthAdjust="spacingAndGlyphs">3.05</text>
<text x="1765.0" y="1857.5" font-size="36.6" font-weight="700" fill="#000" textLength="74.0" lengthAdjust="spacingAndGlyphs">2.95</text>
<text x="1765.0" y="1953.7" font-size="36.6" font-weight="700" fill="#000" textLength="74.0" lengthAdjust="spacingAndGlyphs">2.85</text>
<text x="1765.0" y="2049.9" font-size="36.6" font-weight="700" fill="#000" textLength="74.0" lengthAdjust="spacingAndGlyphs">2.75</text>
<text x="1840.8" y="2095.7" font-size="33.2" font-weight="700" fill="#000" textLength="72.9" lengthAdjust="spacingAndGlyphs">2007</text>
<text x="1956.1" y="2095.7" font-size="33.2" font-weight="700" fill="#000" textLength="72.9" lengthAdjust="spacingAndGlyphs">2009</text>
<text x="2071.3" y="2095.7" font-size="33.2" font-weight="700" fill="#000" textLength="71.9" lengthAdjust="spacingAndGlyphs">2011</text>
<text x="2185.6" y="2095.7" font-size="33.2" font-weight="700" fill="#000" textLength="72.9" lengthAdjust="spacingAndGlyphs">2013</text>
<text x="2300.8" y="2095.7" font-size="33.2" font-weight="700" fill="#000" textLength="71.8" lengthAdjust="spacingAndGlyphs">2015</text>
<text x="2415.1" y="2095.7" font-size="33.2" font-weight="700" fill="#000" textLength="72.9" lengthAdjust="spacingAndGlyphs">2017</text>
<text x="2530.4" y="2095.7" font-size="33.2" font-weight="700" fill="#000" textLength="72.9" lengthAdjust="spacingAndGlyphs">2019</text>
<text x="2644.9" y="2095.7" font-size="33.2" font-weight="700" fill="#000" textLength="73.1" lengthAdjust="spacingAndGlyphs">2021</text>
<text x="2759.9" y="2095.7" font-size="33.2" font-weight="700" fill="#000" textLength="73.1" lengthAdjust="spacingAndGlyphs">2023</text>
<text x="2875.0" y="2095.7" font-size="33.2" font-weight="700" fill="#000" textLength="72.0" lengthAdjust="spacingAndGlyphs">2025</text>
<text x="34.8" y="66.7" font-size="47.5" font-weight="700" fill="#000" textLength="145.3" lengthAdjust="spacingAndGlyphs"><tspan stroke="#000" stroke-width="1.8">V</tspan>ettaFi</text>
<path d="M35.6 31L46.3 62M38.9 31L48 57.3" stroke="#fff" stroke-width="1.35" fill="none"/>
<text x="211.1" y="66.4" font-size="30.8" font-weight="400" fill="#000" textLength="301.0" lengthAdjust="spacingAndGlyphs" stroke="#000" stroke-width="0.7">Advisor Perspectives</text>
<text x="777.0" y="114.8" font-size="76.8" font-weight="700" fill="#000" textLength="1566.2" lengthAdjust="spacingAndGlyphs">Estimated Vehicle Miles Traveled on All Roads</text>
<text x="2570.6" y="65.1" font-size="46.3" font-weight="700" fill="#000" textLength="513.9" lengthAdjust="spacingAndGlyphs">advisorperspectives.com</text>
<text x="2756.5" y="126.9" font-size="46.3" font-weight="700" fill="#000" textLength="326.5" lengthAdjust="spacingAndGlyphs">As of April 2024</text>
<rect x="793" y="201.7" width="88" height="31.3" fill="#D2D2D2"/>
<text x="891.9" y="232.5" font-size="48.1" font-weight="700" fill="#808080" textLength="246.8" lengthAdjust="spacingAndGlyphs">Recessions</text>
<path d="M1248.1 216.9H1336" stroke="#45338C" stroke-width="10" stroke-linecap="round"/>
<text x="1359.2" y="232.9" font-size="48.1" font-weight="700" fill="#45338C" textLength="970.9" lengthAdjust="spacingAndGlyphs">Miles Traveled: 12 Month Moving Average</text>
<text x="56.5" y="264.3" font-size="46.0" font-weight="400" fill="#000" textLength="157.0" lengthAdjust="spacingAndGlyphs">Trillions</text>
<text x="66.1" y="327.1" font-size="42.4" font-weight="400" fill="#000" textLength="57.1" lengthAdjust="spacingAndGlyphs">3.4</text>
<text x="66.1" y="480.2" font-size="42.4" font-weight="400" fill="#000" textLength="58.2" lengthAdjust="spacingAndGlyphs">3.2</text>
<text x="66.1" y="633.2" font-size="42.4" font-weight="400" fill="#000" textLength="58.2" lengthAdjust="spacingAndGlyphs">3.0</text>
<text x="65.1" y="786.3" font-size="42.4" font-weight="400" fill="#000" textLength="59.2" lengthAdjust="spacingAndGlyphs">2.8</text>
<text x="65.1" y="939.4" font-size="42.4" font-weight="400" fill="#000" textLength="59.2" lengthAdjust="spacingAndGlyphs">2.6</text>
<text x="65.1" y="1092.5" font-size="42.4" font-weight="400" fill="#000" textLength="59.2" lengthAdjust="spacingAndGlyphs">2.4</text>
<text x="65.6" y="1245.5" font-size="42.4" font-weight="400" fill="#000" textLength="58.8" lengthAdjust="spacingAndGlyphs">2.2</text>
<text x="65.6" y="1398.6" font-size="42.4" font-weight="400" fill="#000" textLength="58.7" lengthAdjust="spacingAndGlyphs">2.0</text>
<text x="66.9" y="1551.7" font-size="42.4" font-weight="400" fill="#000" textLength="56.7" lengthAdjust="spacingAndGlyphs">1.8</text>
<text x="66.9" y="1704.8" font-size="42.4" font-weight="400" fill="#000" textLength="56.7" lengthAdjust="spacingAndGlyphs">1.6</text>
<text x="66.9" y="1857.8" font-size="42.4" font-weight="400" fill="#000" textLength="56.6" lengthAdjust="spacingAndGlyphs">1.4</text>
<text x="66.9" y="2010.9" font-size="42.4" font-weight="400" fill="#000" textLength="56.7" lengthAdjust="spacingAndGlyphs">1.2</text>
<text x="66.9" y="2164.0" font-size="42.4" font-weight="400" fill="#000" textLength="56.7" lengthAdjust="spacingAndGlyphs">1.0</text>
<text x="123.0" y="2223.4" font-size="42.2" font-weight="400" fill="#000" textLength="91.7" lengthAdjust="spacingAndGlyphs">1970</text>
<text x="381.9" y="2223.4" font-size="42.2" font-weight="400" fill="#000" textLength="92.8" lengthAdjust="spacingAndGlyphs">1975</text>
<text x="641.8" y="2223.4" font-size="42.2" font-weight="400" fill="#000" textLength="91.7" lengthAdjust="spacingAndGlyphs">1980</text>
<text x="900.6" y="2223.4" font-size="42.2" font-weight="400" fill="#000" textLength="92.8" lengthAdjust="spacingAndGlyphs">1985</text>
<text x="1160.4" y="2223.4" font-size="42.2" font-weight="400" fill="#000" textLength="91.7" lengthAdjust="spacingAndGlyphs">1990</text>
<text x="1420.3" y="2223.4" font-size="42.2" font-weight="400" fill="#000" textLength="91.7" lengthAdjust="spacingAndGlyphs">1995</text>
<text x="1677.1" y="2223.4" font-size="42.2" font-weight="400" fill="#000" textLength="93.3" lengthAdjust="spacingAndGlyphs">2000</text>
<text x="1936.8" y="2223.4" font-size="42.2" font-weight="400" fill="#000" textLength="93.3" lengthAdjust="spacingAndGlyphs">2005</text>
<text x="2196.5" y="2223.4" font-size="42.2" font-weight="400" fill="#000" textLength="93.3" lengthAdjust="spacingAndGlyphs">2010</text>
<text x="2456.2" y="2223.4" font-size="42.2" font-weight="400" fill="#000" textLength="93.2" lengthAdjust="spacingAndGlyphs">2015</text>
<text x="2714.9" y="2223.4" font-size="42.2" font-weight="400" fill="#000" textLength="93.3" lengthAdjust="spacingAndGlyphs">2020</text>
<text x="2974.7" y="2223.4" font-size="42.2" font-weight="400" fill="#000" textLength="93.2" lengthAdjust="spacingAndGlyphs">2025</text>
<rect x="1.5" y="1.5" width="3117" height="2260" fill="none" stroke="#8A8A8A" stroke-width="3"/>
</svg>
</body></html>
